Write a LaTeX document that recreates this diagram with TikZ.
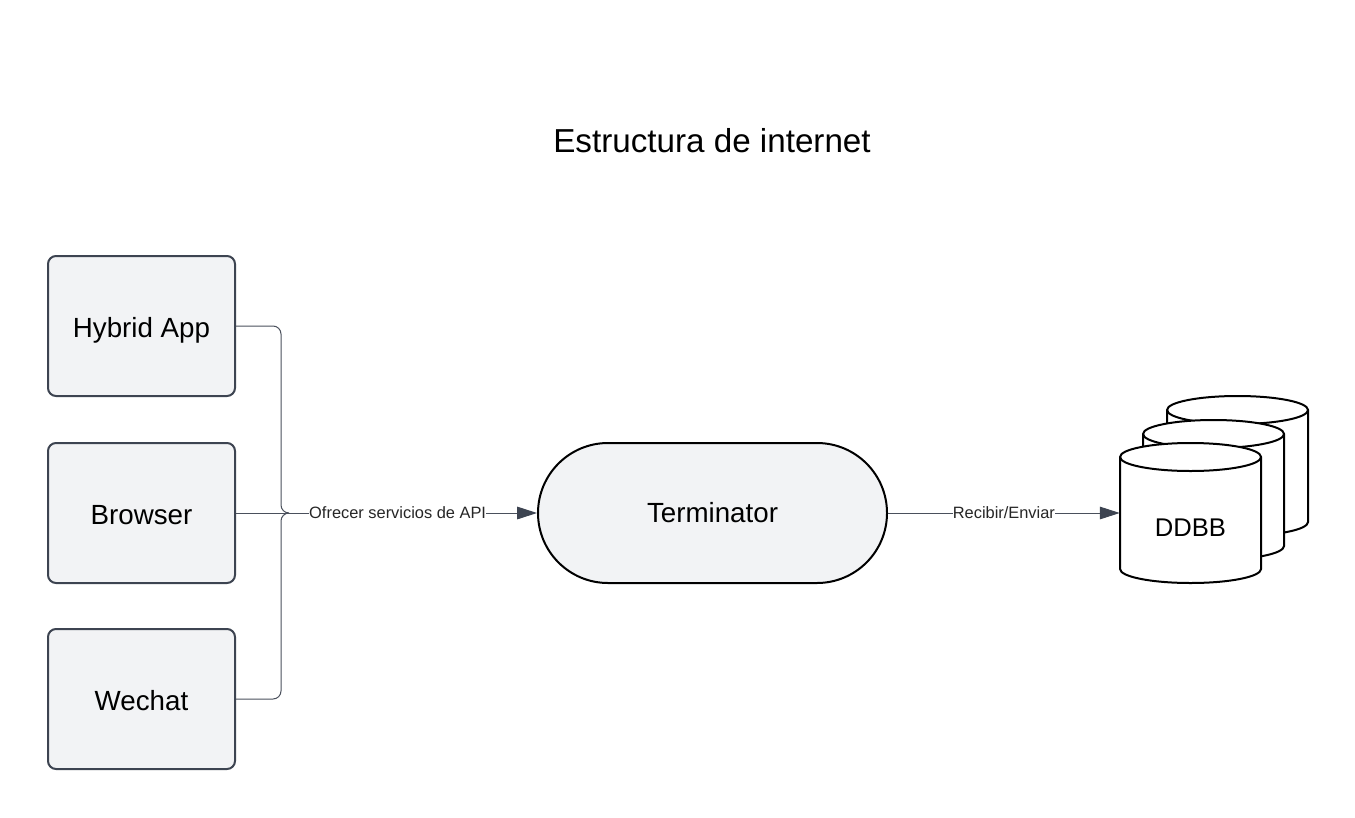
\documentclass[tikz,border=0pt]{standalone}
\usepackage{fontspec}
\setmainfont{Liberation Sans}
\usetikzlibrary{arrows.meta}
\definecolor{BoxFill}{HTML}{F2F3F5}
\definecolor{BoxLine}{HTML}{3D4451}
\definecolor{LinkLine}{HTML}{4A505C}
\def\rx{52.875pt}
\def\ry{10.5pt}
\def\hh{42pt}
\tikzset{
  boxtext/.style={font=\fontsize{20.8}{24}\selectfont,text height=16.5pt,text depth=0pt},
  appbox/.style={draw=BoxLine,fill=BoxFill,line width=1.5pt,rounded corners=6pt,minimum width=140.25pt,minimum height=105pt,inner sep=0pt,boxtext},
  endbox/.style={draw=black,fill=BoxFill,line width=1.5pt,rounded corners=52.5pt,minimum width=261.75pt,minimum height=105pt,inner sep=0pt,boxtext,text height=13.5pt},
  dbtext/.style={minimum width=105.75pt,minimum height=105pt,inner sep=0pt,font=\fontsize{19.2}{24}\selectfont,text height=34.5pt,text depth=0pt},
  dbcyl/.pic={
    \filldraw[draw=black,fill=white,line width=1.5pt] (-\rx,\hh) -- (-\rx,-\hh)
      arc[start angle=180,end angle=360,x radius=\rx,y radius=\ry] -- (\rx,\hh)
      arc[start angle=0,end angle=180,x radius=\rx,y radius=\ry] -- cycle;
    \draw[black,line width=1.5pt] (-\rx,\hh) arc[start angle=180,end angle=360,x radius=\rx,y radius=\ry];
  },
  link/.style={draw=LinkLine,line width=0.75pt},
  linktip/.style={link,-{Triangle[length=15pt,width=9.5pt,color=BoxLine]}},
  linklabel/.style={fill=white,inner sep=0pt,text=black!85,font=\fontsize{12.3}{14}\selectfont},
}
\begin{document}
\begin{tikzpicture}[x=0.75pt,y=-0.75pt]
\useasboundingbox (0,0) rectangle (1355,817);

\node[font=\fontsize{24.9}{30}\selectfont] (title) at (712,141) {Estructura de internet};

\node[appbox] (hybrid) at (141.5,326) {Hybrid App};
\node[appbox] (browser) at (141.5,513) {Browser};
\node[appbox] (wechat) at (141.5,699) {Wechat};
\node[endbox] (term) at (712.5,513) {Terminator};

\pic at (1237.5,466) {dbcyl};
\pic at (1213.5,490) {dbcyl};
\pic at (1190.5,513) {dbcyl};
\node[dbtext] (db) at (1190.5,513) {DDBB};

\coordinate (bend) at (281,513);
\coordinate (merge) at (289,513);

\draw[link,rounded corners=6pt] (hybrid.east) -- (hybrid.east -| bend) -- (bend) -- (merge);
\draw[link,rounded corners=6pt] (wechat.east) -- (wechat.east -| bend) -- (bend) -- (merge);
\draw[linktip] (browser.east) -- node[linklabel,pos=0.537] {Ofrecer servicios de API} (term.west);
\draw[linktip] (term.east) -- node[linklabel] {Recibir/Enviar} (db.west);
\end{tikzpicture}
\end{document}
